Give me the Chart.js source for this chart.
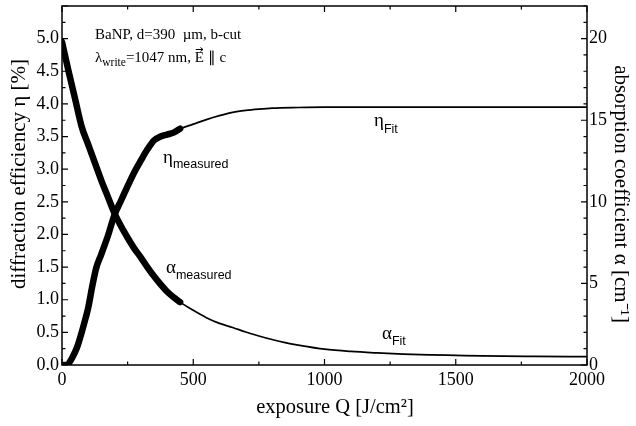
<!DOCTYPE html>
<html><head><meta charset="utf-8">
<script src="https://cdn.jsdelivr.net/npm/chart.js@4"></script>
<style>html,body{margin:0;padding:0;background:#fff}#wrap{width:636px;height:426px;position:relative}</style>
</head><body><div id="wrap"><canvas id="c" width="636" height="426"></canvas></div>
<script>
// ---- data ----
const qEtaMeas   = [0,20,30,40,50,60,75,90,100,115,130,150,175,200,225,250,275,300,325,350,375,400,425,450];
const etaMeas    = [0,0,0.05,0.12,0.2,0.3,0.5,0.72,0.88,1.2,1.48,1.7,1.98,2.3,2.52,2.74,2.95,3.13,3.3,3.44,3.5,3.53,3.56,3.62];
const qAlphaMeas = [0,25,50,75,100,125,150,175,200,225,250,275,300,325,350,375,400,425,450];
const alphaMeas  = [19.8,18.0,16.3,14.6,13.5,12.4,11.3,10.3,9.3,8.5,7.8,7.15,6.6,6.0,5.45,4.95,4.5,4.15,3.85];
const qEtaFit    = [400,450,500,550,600,650,700,750,800,900,1000,1200,1500,2000];
const etaFit     = [3.54,3.62,3.69,3.76,3.82,3.87,3.9,3.92,3.935,3.945,3.95,3.95,3.95,3.95];
const qAlphaFit  = [400,450,500,550,600,650,700,750,800,850,900,1000,1100,1200,1300,1400,1500,1600,1800,2000];
const alphaFit   = [4.5,3.85,3.35,2.9,2.55,2.3,2.02,1.78,1.56,1.37,1.22,0.97,0.83,0.74,0.67,0.62,0.59,0.56,0.53,0.51];

const serif = "'Liberation Serif','Times New Roman',serif";
const sans  = "'Liberation Sans',Arial,sans-serif";
const pairs = (xs, ys) => xs.map((x, i) => ({x, y: ys[i]}));
const near = (v, m) => Math.abs(v / m - Math.round(v / m)) < 1e-6;

const deco = {
  id: 'deco',
  afterDraw(chart) {
    const {ctx, chartArea: a, scales} = chart;
    ctx.save();
    ctx.strokeStyle = '#000';
    ctx.lineWidth = 1.5;
    ctx.strokeRect(a.left, a.top, a.right - a.left, a.bottom - a.top);
    ctx.lineWidth = 1.2;
    ctx.beginPath();
    scales.x.ticks.forEach(t => {
      const p = scales.x.getPixelForValue(t.value);
      const L = near(t.value, 500) ? 6 : 3.5;
      ctx.moveTo(p, a.bottom); ctx.lineTo(p, a.bottom - L);
      ctx.moveTo(p, a.top); ctx.lineTo(p, a.top + L);
    });
    scales.yL.ticks.forEach(t => {
      const p = scales.yL.getPixelForValue(t.value);
      const L = near(t.value, 0.5) ? 6 : 3.5;
      ctx.moveTo(a.left, p); ctx.lineTo(a.left + L, p);
    });
    scales.yR.ticks.forEach(t => {
      const p = scales.yR.getPixelForValue(t.value);
      const L = near(t.value, 5) ? 6 : 3.5;
      ctx.moveTo(a.right, p); ctx.lineTo(a.right - L, p);
    });
    ctx.stroke();

    ctx.fillStyle = '#000';
    ctx.textBaseline = 'alphabetic';
    ctx.textAlign = 'left';
    // info text
    ctx.font = `15px ${serif}`;
    ctx.fillText('BaNP, d=390  \u00B5m, b-cut', 95, 39);
    let x = 95;
    ctx.fillText('\u03BB', x, 62); x += ctx.measureText('\u03BB').width;
    ctx.font = `11.5px ${serif}`;
    ctx.fillText('write', x, 66); x += ctx.measureText('write').width;
    ctx.font = `15px ${serif}`;
    ctx.fillText('=1047 nm, ', x, 62); x += ctx.measureText('=1047 nm, ').width;
    const ex = x, ew = ctx.measureText('E').width;
    ctx.fillText('E', x, 62); x += ew;
    ctx.fillText(' \u2225 c', x, 62);
    ctx.lineWidth = 1;
    ctx.beginPath();
    ctx.moveTo(ex + 1, 49.5); ctx.lineTo(ex + ew - 1, 49.5);
    ctx.moveTo(ex + ew - 3.5, 47.5); ctx.lineTo(ex + ew - 1, 49.5); ctx.lineTo(ex + ew - 3.5, 51.5);
    ctx.stroke();

    // curve labels
    const lab = (g, sub, gx, gy, sy) => {
      ctx.font = `19px ${serif}`;
      ctx.fillText(g, gx, gy);
      const w = ctx.measureText(g).width;
      ctx.font = `12.5px ${sans}`;
      ctx.fillText(sub, gx + w, sy);
    };
    lab('\u03B7', 'measured', 163, 163, 168);
    lab('\u03B7', 'Fit', 374, 126, 133);
    lab('\u03B1', 'measured', 166, 273, 279);
    lab('\u03B1', 'Fit', 382, 339, 345);

    // axis titles
    ctx.font = `21px ${serif}`;
    ctx.textAlign = 'center';
    ctx.textBaseline = 'alphabetic';
    ctx.save();
    ctx.translate(25, 174); ctx.rotate(-Math.PI / 2);
    ctx.fillText('diffraction efficiency \u03B7 [%]', 0, 0);
    ctx.restore();
    ctx.save();
    ctx.translate(615, 194); ctx.rotate(Math.PI / 2);
    ctx.fillText('absorption coefficient \u03B1 [cm\u207B\u00B9]', 0, 0);
    ctx.restore();
    ctx.font = `20.5px ${serif}`;
    ctx.fillText('exposure Q [J/cm\u00B2]', 335, 413);
    ctx.restore();
  }
};

const tickFont = {family: serif, size: 18};
new Chart(document.getElementById('c'), {
  type: 'line',
  data: {
    datasets: [
      {data: pairs(qEtaFit, etaFit), yAxisID: 'yL', borderColor: '#000', borderWidth: 1.7, pointRadius: 0, cubicInterpolationMode: 'monotone'},
      {data: pairs(qAlphaFit, alphaFit), yAxisID: 'yR', borderColor: '#000', borderWidth: 1.7, pointRadius: 0, cubicInterpolationMode: 'monotone'},
      {data: pairs(qEtaMeas, etaMeas), yAxisID: 'yL', borderColor: '#000', borderWidth: 6.5, pointRadius: 0, cubicInterpolationMode: 'monotone', borderCapStyle: 'round', borderJoinStyle: 'round'},
      {data: pairs(qAlphaMeas, alphaMeas), yAxisID: 'yR', borderColor: '#000', borderWidth: 6.5, pointRadius: 0, cubicInterpolationMode: 'monotone', borderCapStyle: 'round', borderJoinStyle: 'round'}
    ]
  },
  options: {
    responsive: false, animation: false, devicePixelRatio: 1,
    layout: {padding: {top: 6, left: 0, right: 0, bottom: 0}},
    plugins: {legend: {display: false}, tooltip: {enabled: false}},
    scales: {
      x: {type: 'linear', min: 0, max: 2000,
        grid: {display: false, drawTicks: false}, border: {display: false},
        ticks: {stepSize: 250, autoSkip: false, maxRotation: 0, color: '#000', font: tickFont, padding: 4,
          callback: v => near(v, 500) ? String(v) : ''},
        afterFit: s => { s.height = 61; s.paddingLeft = 0; s.paddingRight = 0; }},
      yL: {position: 'left', min: 0, max: 5.5,
        grid: {display: false, drawTicks: false}, border: {display: false},
        ticks: {stepSize: 0.25, autoSkip: false, color: '#000', font: tickFont, padding: 3,
          callback: v => (near(v, 0.5) && v < 5.2) ? v.toFixed(1) : ''},
        afterFit: s => { s.width = 62; s.paddingTop = 0; s.paddingBottom = 0; }},
      yR: {position: 'right', min: 0, max: 22,
        grid: {display: false, drawTicks: false}, border: {display: false},
        ticks: {stepSize: 1, autoSkip: false, color: '#000', font: tickFont, padding: 2,
          callback: v => near(v, 5) ? String(v) : ''},
        afterFit: s => { s.width = 49; s.paddingTop = 0; s.paddingBottom = 0; }}
    }
  },
  plugins: [deco]
});
</script>
</body></html>
